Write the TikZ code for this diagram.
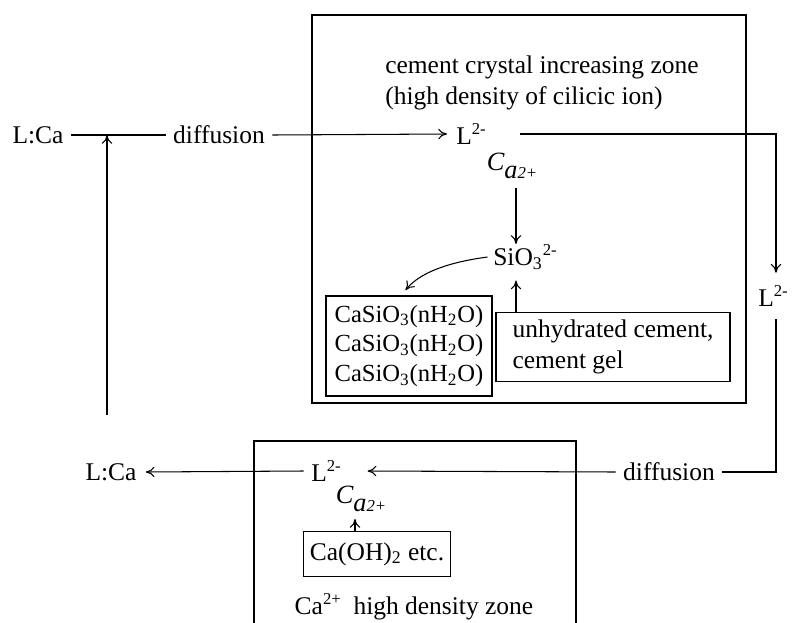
\documentclass[tikz,border=0pt]{standalone}
\usepackage{fontspec}
\setmainfont{Liberation Serif}
\usetikzlibrary{
    arrows.meta,
    positioning
}
\newcommand{\chg}[1]{\raisebox{0.85ex}{\fontsize{9.5}{10}\selectfont #1}}
\newcommand{\caion}{C\raisebox{-0.6ex}{a{\fontsize{9.5}{10}\selectfont 2+}}}

\begin{document}
\begin{tikzpicture}[
    x=0.02cm, y=-0.02cm,
    font=\fontsize{14.5}{18}\selectfont,
    every path/.style={line width=0.6pt},
    txt/.style={inner sep=1pt},
    box/.style={rectangle, draw, inner sep=3pt},
    arrow/.style={-{To[length=5pt,width=6pt]}},
    ion/.style={inner sep=1pt, font=\fontsize{15}{18}\selectfont\itshape}
]
\useasboundingbox (0,0) rectangle (796,623);

% zones
\draw (312,15) rectangle (746,403);
\draw (254,623) |- (576,441) -- (576,623);

\node[txt, anchor=west, align=left] (zone) at (383,83) {cement crystal increasing zone\\(high density of cilicic ion)};
\node[txt] (hdz) at (414,607) {Ca\chg{2+}\ \ high density zone};

% upper path
\node[txt] (lca1) at (38,135) {L:Ca};
\node[txt] (dif1) at (219,135) {diffusion};
\node[txt] (l1) at (471,134) {L\chg{2-}};
\node[ion] (ca1) at (512,166) {\caion};
\node[txt] (sio) at (525,257) {SiO\textsubscript{3}\chg{2-}};
\node[box, minimum width=166*0.02cm, minimum height=100*0.02cm, align=center,
      font=\fontsize{14}{17}\selectfont] (csh) at (409,346)
    {CaSiO\textsubscript{3}(nH\textsubscript{2}O)\\CaSiO\textsubscript{3}(nH\textsubscript{2}O)\\CaSiO\textsubscript{3}(nH\textsubscript{2}O)};
\node[box, minimum width=234*0.02cm, minimum height=69*0.02cm, align=left] (unh) at (613,347)
    {unhydrated cement,\\cement gel};
\node[txt] (l2) at (773,296) {L\chg{2-}};

% lower path
\node[txt] (dif2) at (669,472) {diffusion};
\node[txt] (l3) at (326,471) {L\chg{2-}};
\node[txt] (lca2) at (111,472) {L:Ca};
\node[ion] (ca2) at (361,499) {\caion};
\node[box, minimum width=147*0.02cm, minimum height=45*0.02cm] (caoh) at (377,554) {Ca(OH)\textsubscript{2} etc.};
\coordinate (rise) at (107,415);
\coordinate (axis) at (516,0);
\coordinate (drop) at (776,0);
\coordinate (lift) at (355,0);

\draw ([xshift=3pt]lca1.east) -- ([xshift=-3pt]dif1.west);
\draw[arrow] ([xshift=3pt]dif1.east) -- ([xshift=-4pt]l1.west);
\draw[arrow] ([xshift=18pt]l1.east) -| ([yshift=6pt]l2.north -| drop);
\draw[arrow] ([yshift=-4pt]ca1.south -| axis) -- ([yshift=-1pt]sio.north -| axis);
\draw[arrow] ([xshift=-2pt]sio.west) .. controls (450,262) and (420,272) .. ([xshift=-2pt,yshift=3pt]csh.north);
\draw[arrow] (unh.north -| axis) -- ([yshift=-5pt]sio.south -| axis);
\draw ([yshift=-6pt]l2.south -| drop) |- ([xshift=3pt]dif2.east);
\draw[arrow] ([xshift=-3pt]dif2.west) -- ([xshift=14pt]l3.east);
\draw[arrow] ([xshift=-3pt]l3.west) -- ([xshift=4pt]lca2.east);
\draw[arrow] (caoh.north -| lift) -- ([yshift=-3pt]ca2.south -| lift);
\draw[arrow] (rise) -- (rise |- lca1);
\end{tikzpicture}
\end{document}
